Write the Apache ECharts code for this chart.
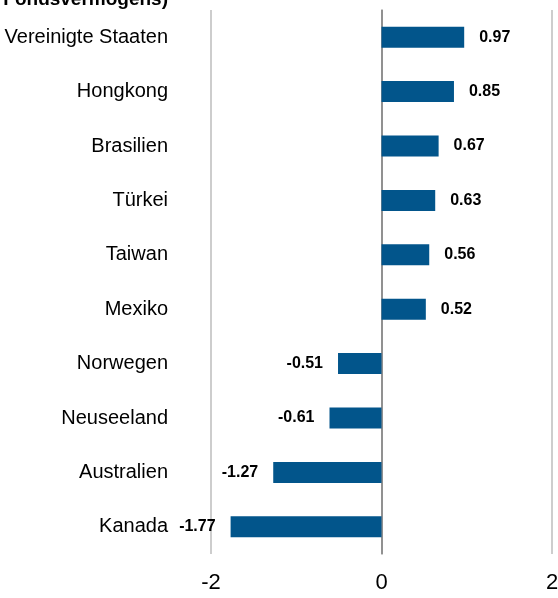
<!DOCTYPE html>
<html lang="de">
<head>
<meta charset="UTF-8">
<script src="https://cdn.jsdelivr.net/npm/echarts@6/dist/echarts.min.js"></script>
<title>Länderallokation</title>
<style>
  html, body { margin: 0; padding: 0; background: #fff; }
  #chart { width: 558px; height: 598px; }
</style>
</head>
<body>
<div id="chart"></div>
<script type="text/javascript">
// Länder (oben nach unten) und Werte
var countries = ['Vereinigte Staaten', 'Hongkong', 'Brasilien', 'Türkei', 'Taiwan',
                 'Mexiko', 'Norwegen', 'Neuseeland', 'Australien', 'Kanada'];
var values = [0.97, 0.85, 0.67, 0.63, 0.56, 0.52, -0.51, -0.61, -1.27, -1.77];
var xTicks = [-2, 0, 2];

var chart = echarts.init(document.getElementById('chart'));
var font = "'Liberation Sans', Arial, sans-serif";

var barData = values.map(function (v) {
    return {
        value: v,
        label: { position: v >= 0 ? 'right' : 'left' }
    };
});

var option = {
    animation: false,
    title: {
        text: 'Länderallokation (in % des Fondsvermögens)',
        right: 390,
        top: -10,
        padding: 0,
        textStyle: { fontFamily: font, fontSize: 19, fontWeight: 'bold', color: '#000' }
    },
    grid: { left: 211, right: 6, top: 10, bottom: 44, outerBoundsMode: 'none' },
    xAxis: {
        type: 'value',
        min: xTicks[0],
        max: xTicks[xTicks.length - 1],
        interval: 2,
        axisLine: { show: false },
        axisTick: { show: false },
        axisLabel: {
            margin: 18,
            fontFamily: font,
            fontSize: 22,
            color: '#000',
            formatter: function (v) { return String(v); }
        },
        splitLine: {
            show: true,
            lineStyle: { color: ['#bdbdbd', '#8a8a8a', '#bdbdbd'], width: 1.5 }
        }
    },
    yAxis: {
        type: 'category',
        data: countries,
        inverse: true,
        axisLine: { show: true, onZero: true, lineStyle: { color: '#8a8a8a', width: 1.5 } },
        axisTick: { show: false },
        axisLabel: {
            margin: 43,
            fontFamily: font,
            fontSize: 20,
            color: '#000'
        }
    },
    series: [{
        type: 'bar',
        data: barData,
        barWidth: 21,
        itemStyle: { color: '#02558b' },
        label: {
            show: true,
            distance: 15,
            fontFamily: font,
            fontSize: 16,
            fontWeight: 'bold',
            color: '#000',
            formatter: function (p) { return p.value.toFixed(2); }
        }
    }]
};

chart.setOption(option);
window.onresize = function () { chart.resize(); };
</script>
</body>
</html>
